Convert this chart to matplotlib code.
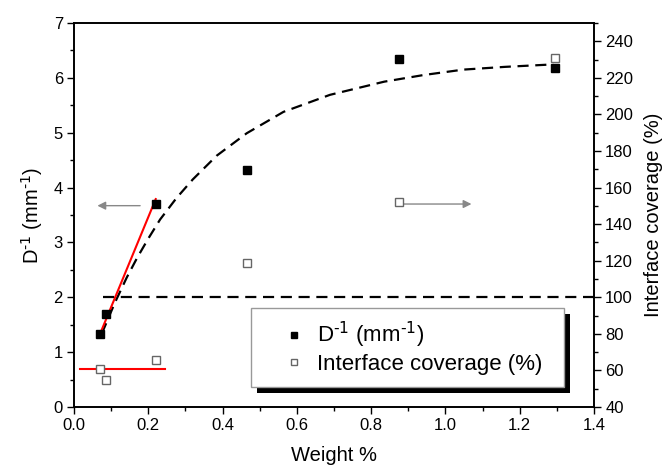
import matplotlib
matplotlib.use("Agg")
from matplotlib import pyplot as plt
from matplotlib.patches import Rectangle
from matplotlib.ticker import MultipleLocator, FormatStrFormatter

plt.rcParams['font.family'] = ['Liberation Sans', 'DejaVu Sans']
plt.rcParams['mathtext.default'] = 'regular'

# data
weight = [0.07, 0.085, 0.22, 0.465, 0.875, 1.295]
d_inv = [1.33, 1.70, 3.70, 4.32, 6.35, 6.18]
coverage = [61, 55, 65.5, 118.6, 152, 231]

# dashed guide curve (points read along it)
curve_x = [0.075, 0.11, 0.142, 0.17, 0.2, 0.232, 0.276, 0.32, 0.384, 0.465,
           0.564, 0.689, 0.835, 0.94, 1.048, 1.16, 1.29]
curve_y = [1.34, 1.90, 2.36, 2.72, 3.07, 3.42, 3.81, 4.15, 4.58, 4.99,
           5.38, 5.69, 5.93, 6.05, 6.15, 6.20, 6.245]

# red linear fits
fit_x = [0.07, 0.22]
fit_y = [1.33, 3.79]
flat_x = [0.015, 0.245]
flat_y = [61, 61]

# 100 % coverage line
full_x = [0.077, 1.4]
full_y = [100, 100]

label_d = r'D$^{\text{-1}}$ (mm$^{\text{-1}}$)'

fig = plt.figure(figsize=(6.63, 4.68), dpi=100)
ax = fig.add_axes([0.1116, 0.1303, 0.7844, 0.8206])
ax2 = ax.twinx()

ax.plot(curve_x, curve_y, color='black', lw=1.6, ls=(0, (5, 3)), zorder=2)
ax.plot(fit_x, fit_y, color='red', lw=1.5, zorder=3)
ax.plot(weight, d_inv, ls='none', marker='s', ms=5.5, mfc='black', mec='black',
        label=label_d, zorder=4)

ax2.plot(full_x, full_y, color='black', lw=1.6, ls=(0, (5, 3)), zorder=2)
ax2.plot(flat_x, flat_y, color='red', lw=1.5, zorder=3)
ax2.plot(weight, coverage, ls='none', marker='s', ms=5.5, mfc='white', mec='#666666',
         mew=1.0, label='Interface coverage (%)', zorder=4)

# arrows pointing to the axes
ax.annotate('', xy=(0.063, 3.67), xytext=(0.178, 3.67),
            arrowprops=dict(arrowstyle='-|>', color='#888888', lw=1.0,
                            mutation_scale=12, shrinkA=0, shrinkB=0))
ax.annotate('', xy=(1.07, 3.70), xytext=(0.887, 3.70),
            arrowprops=dict(arrowstyle='-|>', color='#888888', lw=1.0,
                            mutation_scale=12, shrinkA=0, shrinkB=0))

ax.set_xlim(0.0, 1.4)
ax.set_ylim(0, 7)
ax2.set_ylim(40, 250)
ax.xaxis.set_major_locator(MultipleLocator(0.2))
ax.xaxis.set_minor_locator(MultipleLocator(0.1))
ax.yaxis.set_major_locator(MultipleLocator(1))
ax.yaxis.set_minor_locator(MultipleLocator(0.5))
ax2.yaxis.set_major_locator(MultipleLocator(20))
ax2.yaxis.set_minor_locator(MultipleLocator(10))
ax.xaxis.set_major_formatter(FormatStrFormatter('%.1f'))

for a in (ax, ax2):
    a.tick_params(which='major', direction='out', length=5, width=1.0,
                  labelsize=12, pad=3)
    a.tick_params(which='minor', direction='out', length=3, width=1.0)
    for s in a.spines.values():
        s.set_linewidth(1.2)
ax.tick_params(which='both', top=False, right=False)
ax2.tick_params(which='both', left=False)

ax.set_xlabel('Weight %', fontsize=14.5, labelpad=9)
ax.set_ylabel(label_d, fontsize=14.5, labelpad=6)
ax2.set_ylabel('Interface coverage (%)', fontsize=14.5, labelpad=8)

h1, l1 = ax.get_legend_handles_labels()
h2, l2 = ax2.get_legend_handles_labels()
x0, x1 = 251 / 663, 564 / 663
ytop = 1 - 308 / 468
leg = ax2.legend(h1 + h2, l1 + l2, loc='upper left', mode='expand',
                 bbox_to_anchor=(x0, ytop - 0.2, x1 - x0, 0.2),
                 bbox_transform=fig.transFigure, borderaxespad=0,
                 fontsize=16, fancybox=False, edgecolor='#999999',
                 framealpha=1, borderpad=0.55, labelspacing=0.15,
                 handlelength=2.8, handletextpad=-0.4, markerscale=0.9)
leg.get_frame().set_linewidth(1.0)
leg.set_zorder(10)

fig.canvas.draw()
bb = leg.get_window_extent().transformed(fig.transFigure.inverted())
dx, dy = 6 / 663, 6 / 468
shadow = Rectangle((bb.x0 + dx, bb.y0 - dy), bb.width, bb.height,
                   transform=fig.transFigure, facecolor='black',
                   edgecolor='none', zorder=9)
ax2.add_artist(shadow)

fig.savefig('out.png', dpi=100)
